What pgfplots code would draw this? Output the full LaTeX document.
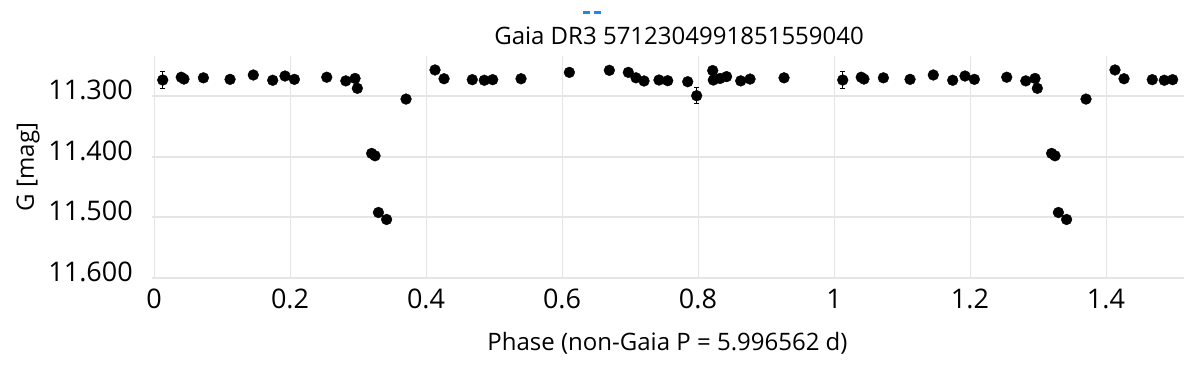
\documentclass[border=0pt]{standalone}
\usepackage{fontspec}
\setmainfont{Open Sans}
\usepackage{pgfplots}
\usepackage{pgfplotstable}
\pgfplotsset{compat=1.18}
\definecolor{gridgray}{RGB}{229,229,229}
\definecolor{legblue}{RGB}{33,134,235}

% phase, G mag, error (points with phase < 0.5 repeat at phase+1)
\pgfplotstableread{
phase mag err
0.0128 11.2736 0.0143
0.0400 11.2690 0.003
0.0440 11.2720 0.003
0.0726 11.2700 0.003
0.1118 11.2725 0.003
0.1460 11.2653 0.003
0.1745 11.2740 0.003
0.1926 11.2670 0.003
0.2064 11.2725 0.003
0.2540 11.2690 0.003
0.2820 11.2750 0.003
0.2956 11.2710 0.003
0.2990 11.2873 0.004
0.3200 11.3946 0.003
0.3250 11.3985 0.003
0.3300 11.4920 0.003
0.3420 11.5035 0.003
0.3706 11.3050 0.003
0.4132 11.2570 0.003
0.4265 11.2715 0.003
0.4680 11.2730 0.003
0.4857 11.2740 0.003
0.4980 11.2730 0.003
0.5397 11.2715 0.003
0.6108 11.2610 0.003
0.6696 11.2576 0.006
0.6975 11.2610 0.003
0.7088 11.2700 0.003
0.7206 11.2752 0.003
0.7426 11.2736 0.003
0.7554 11.2747 0.003
0.7848 11.2764 0.005
0.7980 11.2995 0.0132
0.8216 11.2580 0.003
0.8225 11.2736 0.003
0.8324 11.2710 0.003
0.8420 11.2680 0.003
0.8628 11.2750 0.003
0.8765 11.2720 0.003
0.9265 11.2700 0.003
1.0128 11.2736 0.0143
1.0400 11.2690 0.003
1.0440 11.2720 0.003
1.0726 11.2700 0.003
1.1118 11.2725 0.003
1.1460 11.2653 0.003
1.1745 11.2740 0.003
1.1926 11.2670 0.003
1.2064 11.2725 0.003
1.2540 11.2690 0.003
1.2820 11.2750 0.003
1.2956 11.2710 0.003
1.2990 11.2873 0.004
1.3200 11.3946 0.003
1.3250 11.3985 0.003
1.3300 11.4920 0.003
1.3420 11.5035 0.003
1.3706 11.3050 0.003
1.4132 11.2570 0.003
1.4265 11.2715 0.003
1.4680 11.2730 0.003
1.4857 11.2740 0.003
1.4980 11.2730 0.003
}\lightcurve

\begin{document}
\begin{tikzpicture}
\useasboundingbox (0,0) rectangle (1196pt,370pt);
\begin{axis}[
    at={(152pt,92pt)}, anchor=south west,
    scale only axis,
    width=1032pt, height=222pt,
    xmin=-0.003, xmax=1.5147,
    ymin=11.234, ymax=11.6,
    y dir=reverse,
    xtick={0,0.2,0.4,0.6,0.8,1,1.2,1.4},
    ytick={11.3,11.4,11.5,11.6},
    yticklabel style={/pgf/number format/fixed, /pgf/number format/zerofill,
        /pgf/number format/precision=3, inner sep=0pt, xshift=-19pt, yshift=6pt},
    xticklabel style={inner sep=0pt, yshift=-11pt},
    /pgf/number format/assume math mode=true,
    tick label style={font=\fontsize{27}{31}\selectfont},
    axis line style={draw=none},
    major tick length=0pt,
    xmajorgrids, ymajorgrids,
    x grid style={gridgray, line width=1pt},
    y grid style={gridgray, line width=2pt},
    title={Gaia DR3 5712304991851559040},
    title style={font=\fontsize{24}{28}\selectfont, at={(axis description cs:0.5107,1.063)}, anchor=center, inner sep=0pt},
    xlabel={Phase (non-Gaia P = 5.996562 d)},
    ylabel={G [mag]},
    every axis x label/.style={at={(axis description cs:0.4995,-0.293)}, anchor=center, font=\fontsize{24}{28}\selectfont, inner sep=0pt},
    every axis y label/.style={at={(axis description cs:-0.1202,0.5)}, rotate=90, anchor=center, font=\fontsize{24}{28}\selectfont, inner sep=0pt},
    legend style={at={(axis description cs:0.4273,1.198)}, anchor=center, draw=none, fill=none,
        inner sep=0pt, nodes={inner sep=0pt}},
    legend image code/.code={\draw[legblue, line width=3pt, dash pattern=on 7pt off 4pt] (0pt,0pt) -- (18pt,0pt);},
]
\addlegendimage{legblue}
\addlegendentry{}
\addplot[only marks, mark=*, mark size=5.4pt, black,
    error bars/.cd, y dir=both, y explicit,
    error bar style={line width=1.5pt, black},
    error mark options={rotate=90, mark size=2.5pt, line width=1.5pt, black}]
    table[x=phase, y=mag, y error=err] {\lightcurve};
\end{axis}
\end{tikzpicture}
\end{document}
